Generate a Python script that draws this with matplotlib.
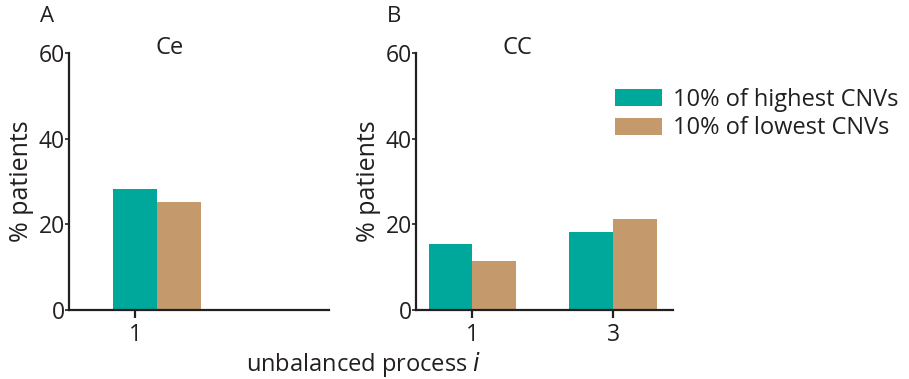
import matplotlib.pyplot as plt

# values (% patients)
ce_pos = [1]
ce_high = [28.3]
ce_low = [25.2]

cc_pos = [1, 3]
cc_high = [15.4, 18.2]
cc_low = [11.4, 21.3]

teal = '#00a89c'
tan = '#c49a6c'
ink = '#231f20'

plt.rcParams['font.family'] = ['Open Sans', 'DejaVu Sans']
plt.rcParams['font.size'] = 16

fig = plt.figure(figsize=(9.09, 3.79), dpi=100)
ax1 = fig.add_axes([0.0759, 0.182, 0.286, 0.678])
ax2 = fig.add_axes([0.4576, 0.182, 0.2827, 0.678])

w = 0.62


def style(ax, xlim, ticks):
  ax.set_ylim(0, 60)
  ax.set_xlim(*xlim)
  ax.set_yticks([0, 20, 40, 60])
  ax.set_xticks(ticks)
  for s in ['top', 'right']:
    ax.spines[s].set_visible(False)
  for s in ['left', 'bottom']:
    ax.spines[s].set_linewidth(1.6)
    ax.spines[s].set_color(ink)
  ax.tick_params(axis='y', length=3, width=1.2, pad=0, labelsize=16.5, colors=ink)
  ax.tick_params(axis='x', length=6, width=1.6, pad=3, labelsize=16.5, colors=ink)
  ax.set_ylabel('% patients', fontsize=18, labelpad=3, color=ink)


# panel A: tick sits under the teal bar
ax1.bar(ce_pos, ce_high, width=w, color=teal, label='10% of highest CNVs')
ax1.bar([p + w for p in ce_pos], ce_low, width=w, color=tan, label='10% of lowest CNVs')
style(ax1, (0.07, 3.73), ce_pos)
ax1.text(0.388, 1.019, 'Ce', transform=ax1.transAxes, fontsize=17,
         ha='center', va='center', color=ink)

# panel B: tick at group centre
ax2.bar([p - w / 2 for p in cc_pos], cc_high, width=w, color=teal, label='10% of highest CNVs')
ax2.bar([p + w / 2 for p in cc_pos], cc_low, width=w, color=tan, label='10% of lowest CNVs')
style(ax2, (0.2, 3.85), cc_pos)
ax2.text(0.393, 1.019, 'CC', transform=ax2.transAxes, fontsize=17,
         ha='center', va='center', color=ink)

leg = ax2.legend(loc='upper left', bbox_to_anchor=(0.774, 0.865), frameon=False,
                 fontsize=17, handlelength=2.0, handleheight=0.75, handletextpad=0.45,
                 labelspacing=0.2, borderaxespad=0, borderpad=0)
for t in leg.get_texts():
  t.set_color(ink)

fig.text(0.052, 0.957, 'A', fontsize=16, ha='center', va='center', color=ink)
fig.text(0.434, 0.957, 'B', fontsize=16, ha='center', va='center', color=ink)
fig.text(0.40, 0.038, 'unbalanced process $\\mathit{i}$', fontsize=17,
         ha='center', va='center', color=ink)

fig.savefig('out.png', dpi=100)
